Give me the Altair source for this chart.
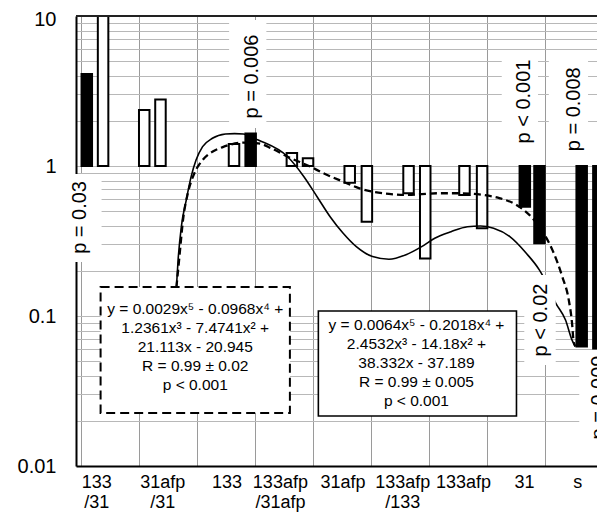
import altair as alt
import pandas as pd

# ---------------- data ----------------
categories = ["133\n/31", "31afp\n/31", "133", "133afp\n/31afp", "31afp",
              "133afp\n/133", "133afp", "31", "s"]
category_x = [0.27, 1.41, 2.52, 3.44, 4.52, 5.55, 6.60, 7.65, 8.57]

bar_x = [0.10, 0.381, 1.091, 1.371, 2.640, 2.927, 3.638, 3.917, 4.636, 4.932,
         5.651, 5.939, 6.616, 6.920, 7.657, 7.910, 8.638, 8.926]
bar_value = [4.1, 10.0, 2.36, 2.78, 1.40, 1.65, 1.22, 1.125, 0.774, 0.425,
             0.658, 0.242, 0.641, 0.384, 0.535, 0.305, 0.0625, 0.0608]
bar_significant = [True, False, False, False, False, True, False, False, False, False,
                   False, False, False, False, True, True, True, True]

dashed_fit_x = [1.646, 1.704, 1.760, 1.844, 1.958, 2.098, 2.267, 2.436, 2.550, 2.80,
                3.058, 3.283, 3.565, 3.959, 4.184, 4.523, 4.805, 5.030, 5.313, 5.596,
                6.159, 6.553, 6.949, 7.230, 7.513, 7.766, 7.964, 8.134, 8.303, 8.415,
                8.472, 8.499, 8.528]
dashed_fit_y = [0.155, 0.263, 0.437, 0.661, 0.898, 1.096, 1.245, 1.332, 1.380, 1.43,
                1.417, 1.312, 1.153, 0.989, 0.894, 0.786, 0.710, 0.674, 0.651, 0.641,
                0.658, 0.658, 0.641, 0.609, 0.550, 0.459, 0.365, 0.275, 0.183, 0.128,
                0.0894, 0.0674, 0.063]

solid_fit_x = [1.646, 1.675, 1.731, 1.816, 1.900, 1.985, 2.098, 2.267, 2.492, 2.65,
               2.804, 3.058, 3.565, 3.846, 4.073, 4.298, 4.523, 4.750, 5.030, 5.313,
               5.596, 5.877, 6.103, 6.384, 6.667, 6.892, 7.118, 7.399, 7.682, 7.907,
               7.992, 8.190, 8.359, 8.472, 8.528]
solid_fit_y = [0.155, 0.236, 0.394, 0.593, 0.849, 1.096, 1.345, 1.530, 1.634, 1.645,
               1.634, 1.49, 1.153, 0.849, 0.624, 0.459, 0.356, 0.290, 0.249, 0.239,
               0.255, 0.290, 0.330, 0.365, 0.394, 0.398, 0.384, 0.338, 0.262, 0.203,
               0.178, 0.122, 0.094, 0.069, 0.0624]

fit_text = [
    "y = 0.0029x\u2075 - 0.0968x\u2074 +\n1.2361x\u00b3 - 7.4741x\u00b2 +\n21.113x - 20.945\nR = 0.99 \u00b1 0.02\np < 0.001",
    "y = 0.0064x\u2075 - 0.2018x\u2074 +\n2.4532x\u00b3 - 14.18x\u00b2 +\n38.332x - 37.189\nR = 0.99 \u00b1 0.005\np < 0.001",
]
fit_box_x1 = [0.338, 4.095]
fit_box_x2 = [3.604, 7.513]
fit_box_y1 = [0.156, 0.108]
fit_box_y2 = [0.02256, 0.02154]
fit_text_x = [1.971, 5.787]
fit_text_y = [0.1039, 0.0806]

p_text = ["p = 0.03", "p = 0.006", "p < 0.001", "p = 0.008", "p < 0.02", "p = 0.009"]
p_x = [-0.01, 2.95, 7.648, 8.50, 7.944, 8.934]
p_y = [0.454, 3.95, 2.69, 2.39, 0.094, 0.0286]
p_bg_x1 = [-0.17, 2.555, 7.259, 8.071, 7.648, 8.596]
p_bg_x2 = [0.355, 3.198, 7.885, 8.748, 8.190, 9.2]
p_bg_y1 = [0.885, 9.4, 5.5, 5.5, 0.1876, 0.0593]
p_bg_y2 = [0.229, 1.79, 1.278, 1.10, 0.0471, 0.0128]

y_grid_values = [0.01, 0.02, 0.03, 0.04, 0.05, 0.06, 0.07, 0.08, 0.09,
                 0.1, 0.2, 0.3, 0.4, 0.5, 0.6, 0.7, 0.8, 0.9,
                 1, 2, 3, 4, 5, 6, 7, 8, 9, 10]
x_grid_values = [0, 1, 2, 3, 4, 5, 6, 7, 8]

# ---------------- chart ----------------
W, H = 521, 450
FONT = "Liberation Sans"

xscale = alt.Scale(domain=[0, 8.816], nice=False, zero=False)
yscale = alt.Scale(type="log", domain=[0.01, 10], nice=False)

xaxis = alt.Axis(values=x_grid_values, grid=True, gridColor="#9a9a9a", gridWidth=1,
                 labels=False, ticks=False, domainColor="black", domainWidth=2, title=None)
yaxis = alt.Axis(values=y_grid_values, grid=True, gridColor="#b8b8b8", gridWidth=1,
                 ticks=False, domainColor="black", domainWidth=2, title=None,
                 labelFont=FONT, labelFontSize=20, labelColor="black", labelPadding=20,
                 labelOverlap=False, labelFlush=False,
                 labelOffset={"condition": {"test": "datum.value == 10", "value": 3}, "value": 0},
                 labelExpr="datum.value == 10 ? '10' : datum.value == 1 ? '1' : datum.value == 0.1 ? '0.1' : datum.value == 0.01 ? '0.01' : ''")

bars_df = pd.DataFrame({"x": bar_x, "y": bar_value, "significant": bar_significant})
dashed_df = pd.DataFrame({"x": dashed_fit_x, "y": dashed_fit_y})
solid_df = pd.DataFrame({"x": solid_fit_x, "y": solid_fit_y})
boxes_df = pd.DataFrame({"x": fit_box_x1, "x2": fit_box_x2, "y": fit_box_y1, "y2": fit_box_y2,
                         "tx": fit_text_x, "ty": fit_text_y, "text": fit_text})
p_df = pd.DataFrame({"x": p_x, "y": p_y, "text": p_text,
                     "bx1": p_bg_x1, "bx2": p_bg_x2, "by1": p_bg_y1, "by2": p_bg_y2})
cat_df = pd.DataFrame({"x": category_x, "label": categories})

X = lambda f: alt.X(f, scale=xscale, axis=xaxis)
Y = lambda f: alt.Y(f, scale=yscale, axis=yaxis)

bars = alt.Chart(bars_df).mark_bar(size=10.5, stroke="black", strokeWidth=2).encode(
    x=X("x:Q"), y=Y("y:Q"), y2=alt.datum(1),
    fill=alt.condition("datum.significant", alt.value("black"), alt.value("white")),
)

dashed = alt.Chart(dashed_df).mark_line(color="black", strokeWidth=2.3, strokeDash=[7, 4],
                                        interpolate="monotone").encode(x=X("x:Q"), y=Y("y:Q"))
solid = alt.Chart(solid_df).mark_line(color="black", strokeWidth=1.6,
                                      interpolate="monotone").encode(x=X("x:Q"), y=Y("y:Q"))

p_bg = alt.Chart(p_df).mark_rect(fill="white").encode(
    x=X("bx1:Q"), x2="bx2:Q", y=Y("by1:Q"), y2="by2:Q")

box_dashed = alt.Chart(boxes_df.iloc[[0]]).mark_rect(
    fill="white", stroke="black", strokeWidth=2, strokeDash=[9, 5]).encode(
    x=X("x:Q"), x2="x2:Q", y=Y("y:Q"), y2="y2:Q")
box_solid = alt.Chart(boxes_df.iloc[[1]]).mark_rect(
    fill="white", stroke="black", strokeWidth=1.6).encode(
    x=X("x:Q"), x2="x2:Q", y=Y("y:Q"), y2="y2:Q")

box_text = alt.Chart(boxes_df).mark_text(
    align="center", baseline="alphabetic", lineBreak="\n", lineHeight=19,
    font=FONT, fontSize=15.5, color="black").encode(
    x=X("tx:Q"), y=Y("ty:Q"), text="text:N")

p_labels = alt.Chart(p_df).mark_text(
    angle=270, align="center", baseline="middle", font=FONT, fontSize=20,
    color="black").encode(x=X("x:Q"), y=Y("y:Q"), text="text:N")

cat_labels = alt.Chart(cat_df).mark_text(
    align="center", baseline="alphabetic", lineBreak="\n", lineHeight=20,
    font=FONT, fontSize=18, color="black").encode(
    x=X("x:Q"), y=alt.value(H + 22), text="label:N")

top_line = alt.Chart(cat_df).mark_rule(color="#222222", strokeWidth=1.2).encode(
    y=alt.datum(10))

chart = alt.layer(
    bars, dashed, solid, p_bg, box_dashed, box_solid, box_text, p_labels, cat_labels, top_line
).properties(
    width=W, height=H,
    autosize=alt.AutoSizeParams(type="none"),
    padding={"left": 68, "top": 8, "right": 0, "bottom": 48},
    background="white",
).configure_view(stroke=None)

chart.save("out.html", embed_options={"renderer": "svg", "actions": False})
